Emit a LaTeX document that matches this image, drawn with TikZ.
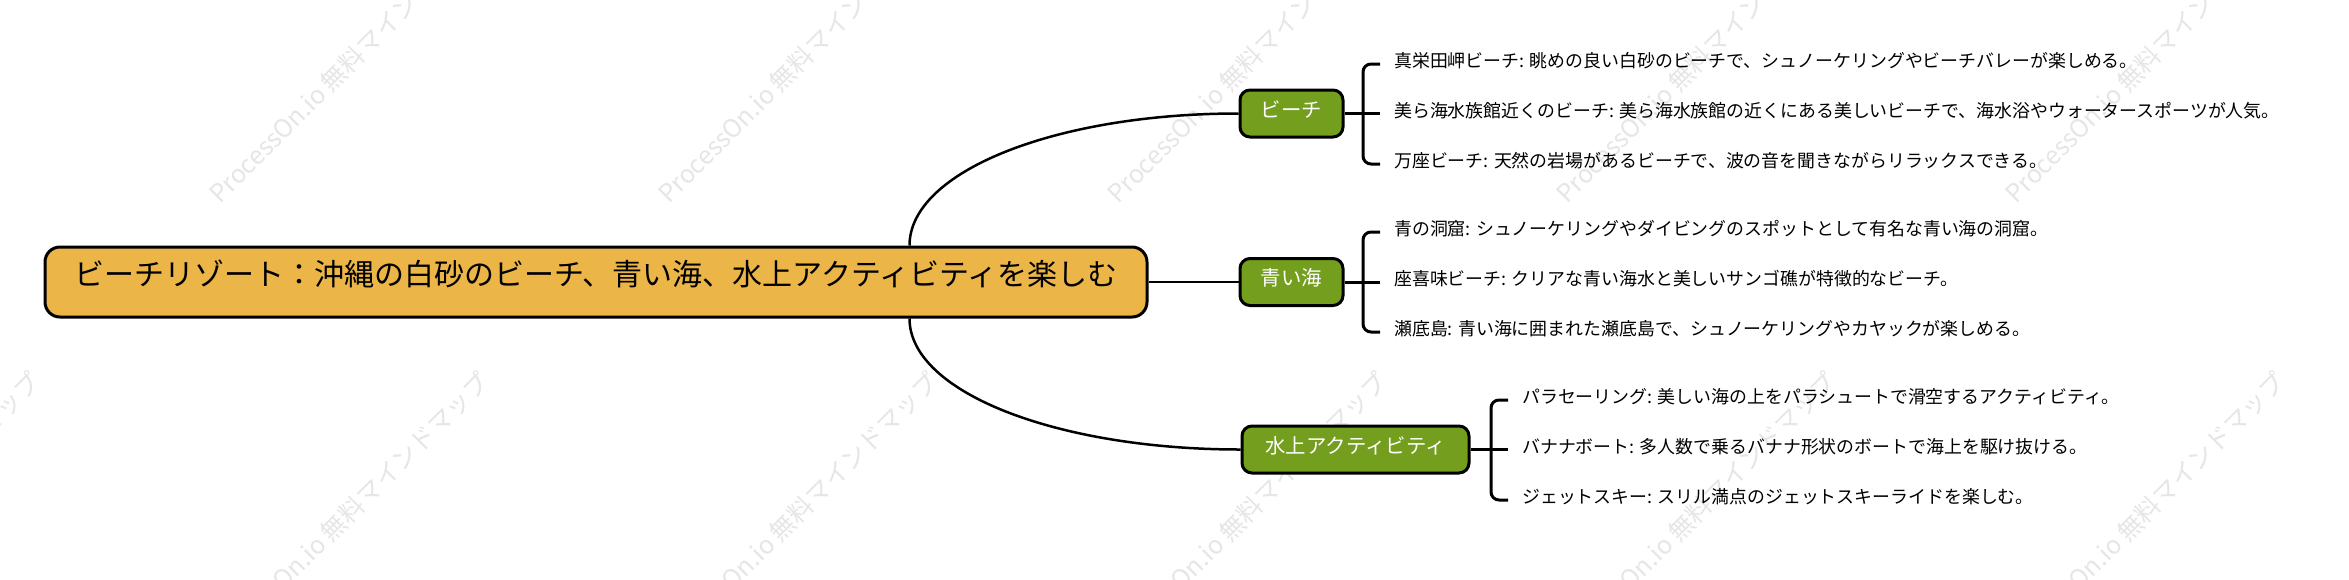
\documentclass[tikz,border=0pt]{standalone}
\usepackage{fontspec}
\setmainfont{Noto Sans CJK JP}
\definecolor{rootfill}{RGB}{236,181,72}
\definecolor{branchfill}{RGB}{115,158,30}
\definecolor{wmgray}{RGB}{230,230,230}
\begin{document}
\begin{tikzpicture}[x=1pt,y=-1pt,
  rootbox/.style={draw=black,line width=3pt,fill=rootfill,rounded corners=15pt,
    minimum width=1102pt,minimum height=70pt,inner sep=0pt,
    font=\fontsize{30}{30}\selectfont,text height=0.8em,text depth=0.04em},
  branchbox/.style={draw=black,line width=3pt,fill=branchfill,rounded corners=10pt,
    minimum height=47pt,inner sep=0pt,text=white,
    font=\fontsize{20.4}{20.4}\selectfont,text height=0.8em,text depth=0.04em},
  leaf/.style={anchor=west,inner sep=0pt,font=\fontsize{17.9}{17.9}\selectfont,
    text height=0.8em,text depth=0.04em},
  conn/.style={line width=2.5pt,draw=black},
  brk/.style={line width=3pt,draw=black,rounded corners=8pt},
  wm/.style={anchor=base west,inner sep=0pt,rotate=45,text=wmgray,
    font=\fontsize{25}{25}\selectfont}]
\useasboundingbox (0,0) rectangle (2349,579);
\clip (0,0) rectangle (2349,579);
\fill[white] (0,0) rectangle (2349,579);
% watermark
\foreach \k in {-1,0,1,2,3,4}{
  \node[wm] (wu\k) at (220+449*\k,205) {ProcessOn.io 無料マインドマップ};
  \node[wm] (wl\k) at (220+449*\k,655) {ProcessOn.io 無料マインドマップ};
}
% nodes
\node[rootbox] (root) at (596,282) {ビーチリゾート：沖縄の白砂のビーチ、青い海、水上アクティビティを楽しむ};
\node[branchbox,minimum width=103pt] (b1) at (1291.5,113.5) {ビーチ};
\node[branchbox,minimum width=103pt] (b2) at (1291.5,282) {青い海};
\node[branchbox,minimum width=227pt] (b3) at (1355.5,449.5) {水上アクティビティ};
% leaves
\node[leaf] (l11) at (1394,64) {真栄田岬ビーチ: 眺めの良い白砂のビーチで、シュノーケリングやビーチバレーが楽しめる。};
\node[leaf] (l12) at (1394,113.5) {美ら海水族館近くのビーチ: 美ら海水族館の近くにある美しいビーチで、海水浴やウォータースポーツが人気。};
\node[leaf] (l13) at (1394,164) {万座ビーチ: 天然の岩場があるビーチで、波の音を聞きながらリラックスできる。};
\node[leaf] (l21) at (1394,232) {青の洞窟: シュノーケリングやダイビングのスポットとして有名な青い海の洞窟。};
\node[leaf] (l22) at (1394,282) {座喜味ビーチ: クリアな青い海水と美しいサンゴ礁が特徴的なビーチ。};
\node[leaf] (l23) at (1394,332) {瀬底島: 青い海に囲まれた瀬底島で、シュノーケリングやカヤックが楽しめる。};
\node[leaf] (l31) at (1522,400) {パラセーリング: 美しい海の上をパラシュートで滑空するアクティビティ。};
\node[leaf] (l32) at (1522,449.5) {バナナボート: 多人数で乗るバナナ形状のボートで海上を駆け抜ける。};
\node[leaf] (l33) at (1522,500) {ジェットスキー: スリル満点のジェットスキーライドを楽しむ。};
% main connectors
\draw[conn] ([xshift=-239pt]root.north east) .. controls +(0,-74) and +(-183,0) .. (b1.west);
\draw[conn] (root.east) -- (b2.west);
\draw[conn] ([xshift=-239pt]root.south east) .. controls +(0,74) and +(-183,0) .. (b3.west);
% brackets
\foreach \b/\i in {b1/1,b2/2,b3/3}{
  \draw[line width=3pt] (\b.east) -- ([xshift=-14pt]l\i2.west);
  \draw[brk] ([xshift=-14pt]l\i1.west) -- ([xshift=-31pt]l\i1.west) -- ([xshift=-31pt]l\i3.west) -- ([xshift=-14pt]l\i3.west);
}
\end{tikzpicture}
\end{document}
